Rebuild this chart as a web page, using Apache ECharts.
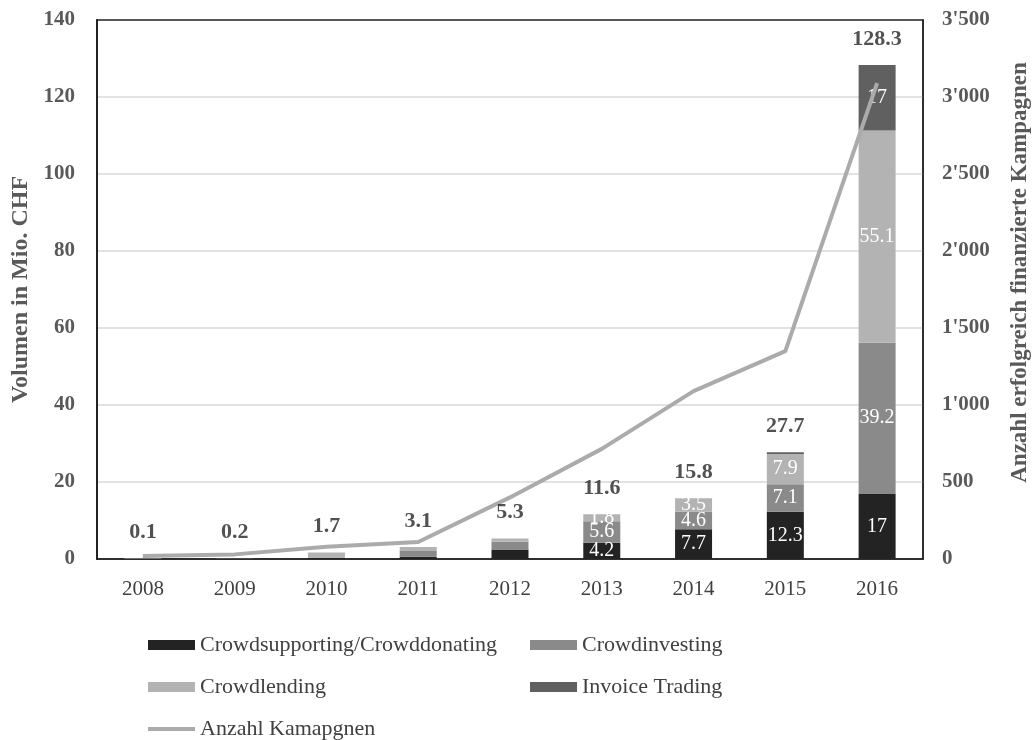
<!DOCTYPE html>
<html>
<head>
<meta charset="utf-8">
<script src="https://cdn.jsdelivr.net/npm/echarts@6/dist/echarts.min.js"></script>
<style>
  html, body { margin: 0; padding: 0; background: #ffffff; }
  #chart { width: 1033px; height: 740px; }
</style>
</head>
<body>
<div id="chart"></div>
<script>
// Crowdfunding volume in Switzerland by segment (Mio. CHF) and number of funded campaigns
const years = ['2008', '2009', '2010', '2011', '2012', '2013', '2014', '2015', '2016'];
const crowdsupporting = [0, 0.1, 0.3, 0.6, 2.5, 4.2, 7.7, 12.3, 17];
const crowdinvesting  = [0, 0, 0, 1.5, 2.0, 5.6, 4.6, 7.1, 39.2];
const crowdlending    = [0.1, 0.1, 1.4, 1.0, 0.8, 1.8, 3.5, 7.9, 55.1];
const invoiceTrading  = [0, 0, 0, 0, 0, 0, 0, 0.4, 17];
const totals          = [0.1, 0.2, 1.7, 3.1, 5.3, 11.6, 15.8, 27.7, 128.3];
const campaigns       = [20, 30, 80, 110, 400, 715, 1090, 1350, 3090];
const labelledYears   = ['2013', '2014', '2015', '2016'];

const seriesNames = ['Crowdsupporting/Crowddonating', 'Crowdinvesting', 'Crowdlending', 'Invoice Trading'];
const lineName = 'Anzahl Kamapgnen';

const FONT = '"Liberation Serif", "Times New Roman", serif';
const AXIS_GRAY = '#595959';

function segmentData(values) {
  return values.map((v, i) => ({
    value: v,
    label: { show: labelledYears.includes(years[i]) && v >= 1 }
  }));
}

function barSeries(name, values, color) {
  return {
    name: name,
    type: 'bar',
    stack: 'volume',
    barWidth: 37,
    data: segmentData(values),
    itemStyle: { color: color },
    label: {
      position: 'inside',
      color: '#ffffff',
      fontFamily: FONT,
      fontSize: 20
    },
    emphasis: { disabled: true }
  };
}

// one legend block per entry so the two columns line up
function legendEntry(name, left, top, lineIcon) {
  return {
    data: [{ name: name, icon: 'rect' }],
    left: left, top: top, padding: 0,
    itemWidth: 47, itemHeight: lineIcon ? 4 : 10, itemGap: 0,
    textStyle: { fontFamily: FONT, fontSize: 22, color: '#404040' },
    selectedMode: false
  };
}

const chart = echarts.init(document.getElementById('chart'), null, { renderer: 'canvas' });

chart.setOption({
  animation: false,
  backgroundColor: '#ffffff',
  grid: {
    left: 97, right: 110, top: 20, bottom: 181,
    outerBoundsMode: 'none',
    containLabel: false,
    show: true, borderColor: '#222222', borderWidth: 1.5, backgroundColor: 'transparent'
  },
  legend: [
    legendEntry(seriesNames[0], 148, 634, false),
    legendEntry(seriesNames[1], 530, 634, false),
    legendEntry(seriesNames[2], 148, 676, false),
    legendEntry(seriesNames[3], 530, 676, false),
    legendEntry(lineName, 148, 718, true)
  ],
  xAxis: {
    type: 'category',
    data: years,
    axisTick: { show: false },
    axisLine: { show: true, lineStyle: { color: '#222222', width: 1.5 } },
    axisLabel: { fontFamily: FONT, fontSize: 21, color: '#404040', margin: 20 }
  },
  yAxis: [
    {
      type: 'value',
      min: 0, max: 140, interval: 20,
      name: 'Volumen in Mio. CHF',
      nameLocation: 'middle',
      nameGap: 60,
      nameTextStyle: { fontFamily: FONT, fontSize: 24, fontWeight: 'bold', color: AXIS_GRAY },
      axisLine: { show: true, lineStyle: { color: '#222222', width: 2 } },
      axisTick: { show: false },
      axisLabel: { fontFamily: FONT, fontSize: 21, fontWeight: 'bold', color: AXIS_GRAY, margin: 22 },
      splitLine: { showMinLine: false, showMaxLine: false, lineStyle: { color: '#d9d9d9', width: 1.5 } }
    },
    {
      type: 'value',
      min: 0, max: 3500, interval: 500,
      name: 'Anzahl erfolgreich finanzierte Kampagnen',
      nameLocation: 'middle',
      nameGap: 86,
      nameRotate: 90,
      nameTextStyle: {
        fontFamily: FONT, fontSize: 23, fontWeight: 'bold', color: AXIS_GRAY,
        padding: [0, 0, 0, 34]
      },
      axisLine: { show: true, lineStyle: { color: '#222222', width: 1.5 } },
      axisTick: { show: false },
      axisLabel: {
        fontFamily: FONT, fontSize: 21, fontWeight: 'bold', color: AXIS_GRAY, margin: 19,
        formatter: v => String(v).replace(/\B(?=(\d{3})+(?!\d))/g, "'")
      },
      splitLine: { show: false }
    }
  ],
  series: [
    barSeries(seriesNames[0], crowdsupporting, '#232323'),
    barSeries(seriesNames[1], crowdinvesting, '#8a8a8a'),
    barSeries(seriesNames[2], crowdlending, '#b3b3b3'),
    barSeries(seriesNames[3], invoiceTrading, '#606060'),
    {
      name: 'Total',
      type: 'scatter',
      data: totals,
      symbolSize: 0,
      z: 5,
      label: {
        show: true, position: 'top', distance: 15,
        fontFamily: FONT, fontSize: 22, fontWeight: 'bold', color: '#262626'
      },
      emphasis: { disabled: true }
    },
    {
      name: lineName,
      type: 'line',
      yAxisIndex: 1,
      data: campaigns,
      symbol: 'none',
      z: 4,
      lineStyle: { color: '#ababab', width: 4 },
      itemStyle: { color: '#ababab' },
      emphasis: { disabled: true }
    }
  ]
});
</script>
</body>
</html>
